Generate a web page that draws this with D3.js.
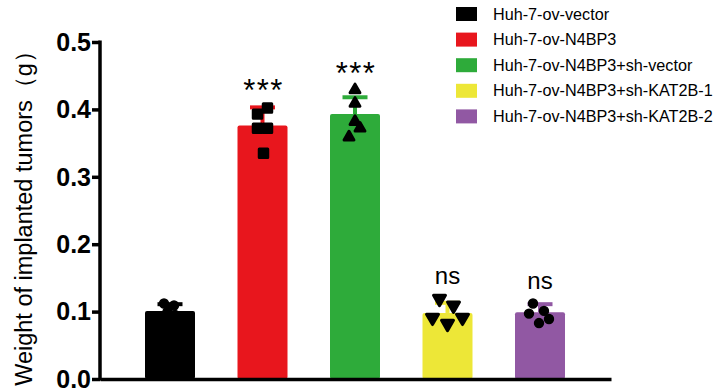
<!DOCTYPE html>
<html><head><meta charset="utf-8">
<script src="https://cdn.jsdelivr.net/npm/d3@7"></script>
<style>body{margin:0;background:#fff}svg{display:block}text{font-family:Arial,"Liberation Sans",sans-serif}</style>
</head><body>
<svg id="c" width="726" height="391"></svg>
<script>
const groups = ["Huh-7-ov-vector","Huh-7-ov-N4BP3","Huh-7-ov-N4BP3+sh-vector","Huh-7-ov-N4BP3+sh-KAT2B-1","Huh-7-ov-N4BP3+sh-KAT2B-2"];
const colors = ["#000000","#e8161d","#2eab3a","#ede737","#9158a3"];
const means = [0.101, 0.376, 0.393, 0.098, 0.099];
const sds = [0.010, 0.027, 0.025, 0.015, 0.012];
const points = [
  [0.112,0.109,0.100,0.095,0.090],
  [0.402,0.393,0.372,0.372,0.335],
  [0.429,0.409,0.382,0.372,0.359],
  [0.119,0.109,0.091,0.082,0.091],
  [0.112,0.097,0.101,0.089,0.083]
];
const jitter = [
  [-0.12,0.08,-0.05,0.1,0.0],
  [0.1,-0.1,-0.1,0.1,0.02],
  [0,0,0,0.1,-0.12],
  [-0.16,0.12,-0.3,0,0.3],
  [-0.14,-0.22,0.08,0.18,-0.02]
];
const symbols = ["circle","square","triangleUp","triangleDown","circle"];
const sigLabels = ["","***","***","ns","ns"];
const yTicks = [0,0.1,0.2,0.3,0.4,0.5];
const yTitle = "Weight of implanted tumors（g）";

const svg = d3.select("#c");
const x = d3.scalePoint().domain(groups).range([170,540]);
const y = d3.scaleLinear().domain([0,0.5]).range([379,42]);
const bw = 50;

// bars
svg.selectAll("rect.bar").data(groups).join("rect")
  .attr("x", d=>x(d)-bw/2).attr("width", bw)
  .attr("y", (d,i)=>y(means[i])).attr("height",(d,i)=>y(0)-y(means[i]))
  .attr("rx",2).attr("fill",(d,i)=>colors[i]);

// error bars (upper only)
groups.forEach((g,i)=>{
  const top = y(means[i]+sds[i]);
  svg.append("line").attr("x1",x(g)).attr("x2",x(g)).attr("y1",y(means[i])).attr("y2",top)
    .attr("stroke",colors[i]).attr("stroke-width",4);
  svg.append("line").attr("x1",x(g)-12.5).attr("x2",x(g)+12.5).attr("y1",top).attr("y2",top)
    .attr("stroke",colors[i]).attr("stroke-width",4);
});

// points
const symMap = {circle:d3.symbolCircle, square:d3.symbolSquare, triangleUp:d3.symbolTriangle, triangleDown:d3.symbolTriangle};
const symSize = {circle:62, square:72, triangleUp:42, triangleDown:62};
groups.forEach((g,i)=>{
  const s = symbols[i];
  const gen = d3.symbol().type(symMap[s]).size(symSize[s]);
  svg.selectAll(null).data(points[i]).join("path")
    .attr("d", gen())
    .attr("stroke","#000").attr("stroke-width", s==="circle"?1.5:3).attr("stroke-linejoin","round")
    .attr("transform",(v,j)=>`translate(${x(g)+jitter[i][j]*bw},${y(v)})`+(s==="triangleDown"?" rotate(180)":""))
    .attr("fill","#000");
});

// significance labels
groups.forEach((g,i)=>{
  if(!sigLabels[i]) return;
  const top = Math.max(...points[i], means[i]+sds[i]);
  const isStar = sigLabels[i].includes("*");
  svg.append("text").attr("x",x(g)+(isStar?1:0)).attr("y", y(top) - (isStar?6:15))
    .attr("text-anchor","middle").attr("font-size", isStar?31:24)
    .attr("letter-spacing", isStar?1.5:0)
    .text(sigLabels[i]);
});

// axes
const yAxis = d3.axisLeft(y).tickValues(yTicks).tickFormat(d3.format(".1f")).tickSize(8).tickSizeOuter(0);
const ya = svg.append("g").attr("transform","translate(100,0)").call(yAxis);
ya.select(".domain").attr("stroke-width",3.5).attr("d",`M0,${y(0.5)-1.5}V${y(0)+1.5}`);
ya.selectAll(".tick line").attr("stroke-width",3.5);
ya.selectAll(".tick text").attr("font-size",25).attr("font-weight","bold").attr("font-family","Arial,'Liberation Sans',sans-serif").attr("fill","#000").attr("x",-9).attr("dy","0.33em");

const xAxis = d3.axisBottom(d3.scaleLinear().range([100,611])).tickValues([]).tickSizeOuter(0);
const xa = svg.append("g").attr("transform",`translate(0,${y(0)})`).call(xAxis);
xa.select(".domain").attr("stroke-width",3.5);

svg.append("text").attr("transform",`translate(32,${(y(0)+y(0.5))/2+2}) rotate(-90)`)
  .attr("text-anchor","middle").attr("font-size",23.5).text(yTitle);

// legend
const lg = svg.append("g");
groups.forEach((g,i)=>{
  const cy = 14 + i*25.6;
  lg.append("rect").attr("x",456).attr("y",cy-7).attr("width",21).attr("height",14).attr("fill",colors[i]);
  lg.append("text").attr("x",493).attr("y",cy).attr("dy","0.35em").attr("font-size",16.2).text(g);
});
</script>
</body></html>
